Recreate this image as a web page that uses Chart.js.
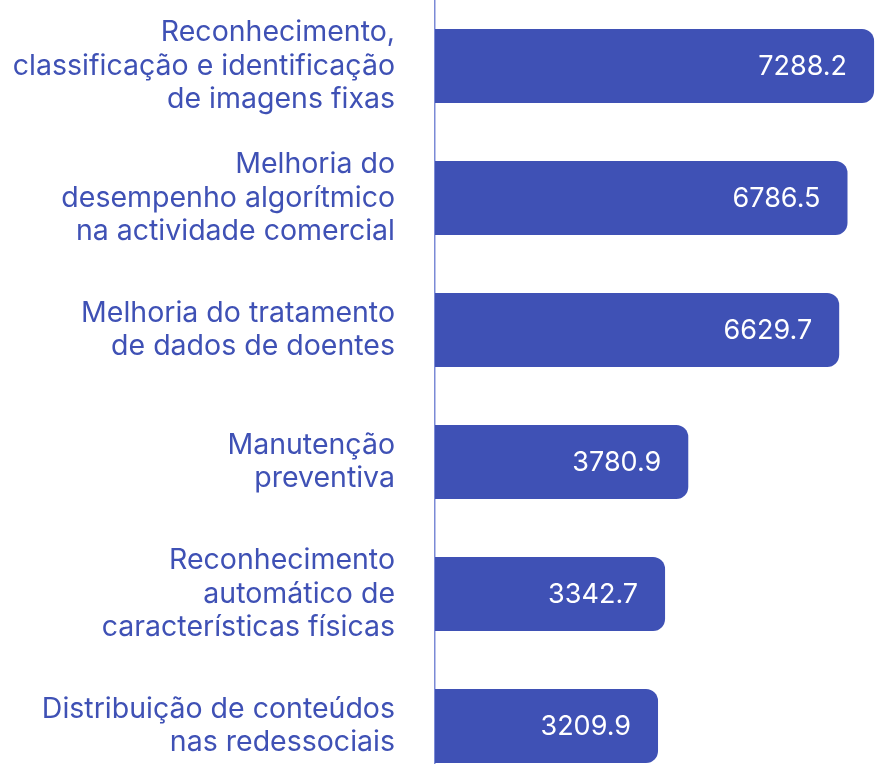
<!DOCTYPE html>
<html>
<head>
<meta charset="utf-8">
<script src="https://cdn.jsdelivr.net/npm/chart.js@4"></script>
<style>
  html, body { margin: 0; padding: 0; background: #fff; }
  #wrap { width: 884px; height: 764px; overflow: hidden; position: relative; }
  #box { width: 884px; height: 800px; position: absolute; left: 0; top: 0; }
</style>
</head>
<body>
<div id="wrap"><div id="box"><canvas id="barChart"></canvas></div></div>
<script>
// Categorias (quebradas em linhas como no original)
const categorias = [
    ['Reconhecimento,', 'classificação e identificação', 'de imagens fixas'],
    ['Melhoria do', 'desempenho algorítmico', 'na actividade comercial'],
    ['Melhoria do tratamento', 'de dados de doentes'],
    ['Manutenção', 'preventiva'],
    ['Reconhecimento', 'automático de', 'características físicas'],
    ['Distribuição de conteúdos', 'nas redessociais']
];
const valores = [7288.2, 6786.5, 6629.7, 3780.9, 3342.7, 3209.9];
const eixoMin = -1000;
const eixoMax = 7400;

const azul = '#3f51b5';

// rótulos de valor dentro da barra, alinhados à direita
const valorLabels = {
    id: 'valorLabels',
    afterDatasetsDraw(chart) {
        const ctx = chart.ctx;
        const meta = chart.getDatasetMeta(0);
        ctx.save();
        ctx.fillStyle = '#ffffff';
        ctx.font = '400 27px Inter';
        ctx.textAlign = 'right';
        ctx.textBaseline = 'middle';
        meta.data.forEach((bar, i) => {
            ctx.fillText(valores[i].toFixed(1), bar.x - 27, bar.y + 1);
        });
        ctx.restore();
    }
};

const ctx = document.getElementById('barChart').getContext('2d');
new Chart(ctx, {
    type: 'bar',
    data: {
        labels: categorias,
        datasets: [{
            data: valores,
            base: eixoMin,
            backgroundColor: azul,
            borderRadius: 12,
            borderSkipped: 'start',
            barPercentage: 0.56,
            categoryPercentage: 1
        }]
    },
    options: {
        indexAxis: 'y',
        responsive: true,
        maintainAspectRatio: false,
        animation: false,
        layout: { padding: { top: 0, right: 4, bottom: 8, left: 0 } },
        plugins: {
            legend: { display: false },
            tooltip: { enabled: false }
        },
        scales: {
            x: {
                display: false,
                min: eixoMin,
                max: eixoMax
            },
            y: {
                afterFit: (scale) => {
                    scale.width = 435;
                    scale.paddingTop = 0;
                    scale.paddingBottom = 0;
                },
                grid: { display: false, drawTicks: false },
                border: { display: true, color: '#7b8ad6', width: 1.5 },
                ticks: {
                    color: azul,
                    padding: 40,
                    font: { family: 'Inter', size: 28.5, lineHeight: 1.175 }
                }
            }
        }
    },
    plugins: [valorLabels]
});
</script>
</body>
</html>
